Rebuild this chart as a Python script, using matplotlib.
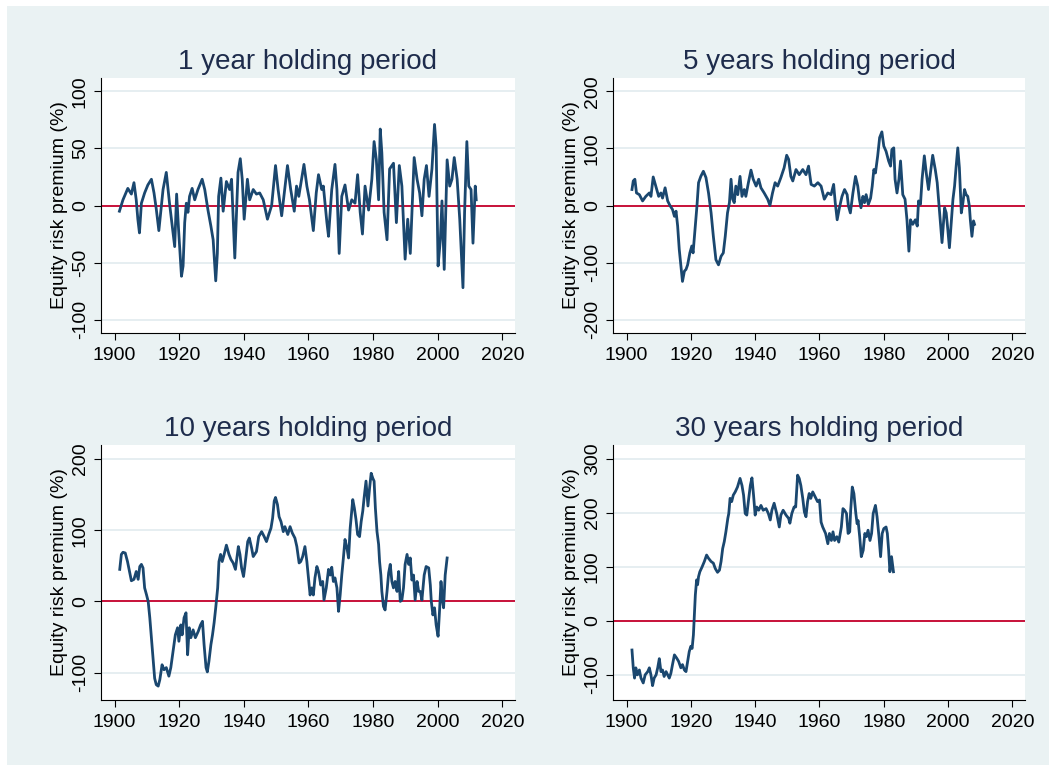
import matplotlib
matplotlib.use('Agg')
import matplotlib.pyplot as plt
from matplotlib.patches import Rectangle

plt.rcParams['font.family'] = ['Liberation Sans', 'DejaVu Sans']
plt.rcParams['axes.unicode_minus'] = False

# ---------------- data ----------------
titles = ["1 year holding period", "5 years holding period",
          "10 years holding period", "30 years holding period"]
x_ticks = [1900, 1920, 1940, 1960, 1980, 2000, 2020]

yr_1y = [1901.5, 1902.6, 1904.1, 1905.2, 1906.0, 1906.7, 1907.2, 1907.7, 1908.3, 1909.3,
         1910.3, 1911.4, 1912.2, 1912.9, 1913.7, 1915.0, 1916.0, 1917.0, 1917.6, 1918.6,
         1919.2, 1919.8, 1920.7, 1921.2, 1921.7, 1922.2, 1922.7, 1923.2, 1924.0, 1924.8,
         1925.8, 1927.1, 1927.9, 1928.9, 1929.8, 1930.5, 1931.3, 1931.8, 1932.2, 1932.9,
         1933.6, 1934.6, 1935.6, 1936.2, 1937.2, 1938.2, 1938.9, 1939.5, 1940.1, 1941.1,
         1941.8, 1942.9, 1943.9, 1944.9, 1946.0, 1947.3, 1948.6, 1949.8, 1950.6, 1951.7,
         1953.5, 1954.5, 1955.6, 1956.3, 1957.0,
         1958.6, 1959.5, 1960.3, 1961.5, 1962.4, 1963.1, 1964.1, 1964.6, 1965.7, 1966.2,
         1967.2, 1968.2, 1968.8, 1969.5, 1970.3, 1971.3, 1972.4, 1973.4, 1974.4, 1975.2,
         1976.0, 1976.7, 1977.5, 1978.6, 1979.6, 1980.3, 1981.0, 1981.7, 1982.2, 1982.7,
         1983.4, 1984.3, 1985.1, 1986.3, 1987.2, 1988.1, 1988.9, 1989.9, 1990.7, 1991.5,
         1992.7, 1993.6, 1994.4, 1995.1, 1995.8, 1996.5, 1997.3, 1998.2, 1999.0, 1999.5,
         2000.1, 2000.8, 2001.3, 2002.0, 2002.9, 2003.7, 2004.4, 2005.1, 2006.0, 2006.8,
         2007.8, 2008.3, 2009.0, 2009.6, 2010.3, 2010.9, 2011.6, 2011.9]
erp_1y = [-5, 5, 15, 10, 20, 5, -12, -24, 2, 11,
          18, 23, 11, -3, -22, 14, 29, 2, -12, -36,
          10, -21, -62, -53, -15, 2, -6, 8, 15, 5,
          14, 23, 14, -4, -18, -30, -66, -42, 8, 24,
          -5, 21, 14, 23, -46, 29, 41, 23, -12, 23,
          5, 14, 10, 11, 5, -12, 0, 35, 14, -9,
          35, 14, -5, 17, 8,
          36, 17, 5, -22, 11, 27, 14, 17, -15, -27,
          14, 36, 14, -42, 8, 18, -4, 5, 2, 27,
          -6, -25, 17, -4, 23, 56, 40, 5, 67, 46,
          -6, -30, 32, 37, -15, 35, 17, -47, -12, -42,
          42, 23, 11, -9, 23, 35, 8, 32, 71, 52,
          -53, -30, 4, -56, 40, 17, 23, 42, 23, -12,
          -72, -6, 56, 17, 14, -33, 17, 5]

yr_5y = [1901.7, 1902.1, 1902.6, 1903.1, 1904.0, 1905.0, 1906.0, 1907.1, 1907.6, 1908.3,
         1909.1, 1910.0, 1910.7, 1911.2, 1912.0, 1912.8, 1913.5, 1914.3, 1914.9, 1915.4,
         1915.9, 1916.4, 1916.9, 1917.4, 1918.0, 1918.5, 1919.0, 1919.7, 1920.3, 1920.7,
         1921.4, 1921.9, 1922.4, 1923.1, 1923.9, 1924.7, 1925.5, 1926.3, 1927.0, 1927.8,
         1928.6, 1929.4, 1930.1, 1930.7, 1931.4, 1932.0, 1932.5, 1933.0, 1933.5, 1934.0,
         1934.6, 1935.3, 1935.9, 1936.6, 1937.1, 1937.9, 1938.7, 1939.4, 1940.3, 1941.1,
         1941.8, 1942.8, 1943.9, 1944.6, 1945.4, 1946.2, 1947.0, 1948.0, 1949.0, 1949.8,
         1950.4, 1951.1, 1951.7, 1952.7, 1953.7, 1954.8, 1955.8, 1956.6, 1957.4,
         1958.4, 1959.5, 1960.5, 1961.5, 1962.6, 1963.6, 1964.4, 1964.9, 1965.5, 1966.2,
         1967.0, 1967.8, 1968.6, 1969.0, 1969.6, 1970.4, 1971.2, 1971.9, 1972.4, 1972.9,
         1973.5, 1974.0, 1974.5, 1975.2, 1975.9, 1976.4, 1976.9, 1977.4, 1978.1, 1978.7,
         1979.4, 1980.0, 1980.7, 1981.5, 1982.1, 1982.5, 1983.1, 1983.5, 1984.1, 1984.7,
         1985.2, 1985.9, 1986.6, 1987.2, 1987.8, 1988.3, 1989.0, 1989.8, 1990.4, 1990.8,
         1991.4, 1991.9, 1992.6, 1993.2, 1993.9, 1994.5, 1995.2, 1996.0, 1996.6, 1997.1,
         1997.8, 1998.1, 1998.9, 1999.4, 1999.9, 2000.4, 2000.9, 2001.5, 2002.0, 2002.5,
         2003.0, 2003.5, 2004.1, 2004.6, 2005.1, 2005.6, 2006.1, 2006.6, 2006.9, 2007.4,
         2007.9, 2008.2]
erp_5y = [28, 43, 46, 22, 19, 8, 16, 22, 16, 50,
          34, 16, 22, 13, 31, 8, 0, -7, -19, -10,
          -36, -77, -106, -133, -115, -112, -104, -83, -71, -83,
          -36, -1, 40, 51, 60, 49, 22, -13, -54, -95,
          -104, -89, -83, -54, -13, 5, 46, 11, 5, 34,
          19, 51, 16, 28, 16, 40, 62, 46, 34, 46,
          31, 22, 11, 0, 22, 40, 34, 49, 66, 88,
          81, 51, 43, 63, 54, 63, 54, 69, 37,
          34, 40, 34, 11, 22, 19, 37, 5, -25, -4,
          16, 28, 19, -1, -13, 22, 51, 34, 11, -4,
          16, 5, 19, 2, 13, 34, 63, 57, 87, 119,
          129, 104, 95, 78, 69, 98, 101, 46, 22, 46,
          78, 19, 11, -25, -80, -25, -33, -25, -36, 8,
          2, 46, 87, 57, 28, 57, 88, 63, 40, 5,
          -42, -65, -4, -13, -42, -74, -36, 11, 34, 69,
          101, 66, -13, 5, 28, 19, 16, -1, -25, -54,
          -27, -33]

yr_10y = [1901.6, 1902.1, 1902.6, 1903.3, 1904.0, 1904.7, 1905.2, 1906.0, 1906.7, 1907.3,
          1907.8, 1908.3, 1908.8, 1909.3, 1909.9, 1910.4, 1910.9, 1911.4, 1911.9, 1912.4,
          1912.9, 1913.5, 1914.0, 1914.7, 1915.3, 1916.0, 1916.8, 1917.4, 1918.1, 1918.8,
          1919.5, 1919.9, 1920.5, 1920.9, 1921.5, 1922.1, 1922.6, 1923.1, 1923.6, 1924.3,
          1925.0, 1925.9, 1926.6, 1927.2, 1927.7, 1928.3, 1928.7, 1929.2, 1929.8, 1930.3,
          1930.8, 1931.3, 1931.9, 1932.3, 1932.8, 1933.3, 1933.9, 1934.6, 1935.4, 1936.0,
          1936.7, 1937.4, 1938.3, 1938.8, 1939.3, 1939.9, 1940.3, 1941.2, 1941.7, 1942.4,
          1942.9, 1943.9, 1944.6, 1945.5, 1946.3, 1947.0, 1947.7, 1948.4, 1948.9, 1949.4,
          1949.8, 1950.4, 1950.9, 1951.5, 1952.2, 1952.7, 1953.6, 1954.3, 1955.0, 1955.8,
          1956.4, 1957.1,
          1957.6, 1958.2, 1958.9, 1959.5, 1960.0, 1960.5, 1961.0, 1961.5, 1962.0, 1962.6,
          1963.1, 1963.8, 1964.4, 1964.8, 1965.5, 1966.2, 1966.7, 1967.2, 1967.7, 1968.2,
          1968.8, 1969.3, 1969.8, 1970.3, 1970.8, 1971.3, 1971.9, 1972.4, 1972.9, 1973.4,
          1973.7, 1974.2, 1974.7, 1975.2, 1975.8, 1976.3, 1976.8, 1977.2, 1977.8, 1978.4,
          1978.9, 1979.4, 1979.9, 1980.3, 1980.7, 1981.2, 1981.7, 1982.0, 1982.4, 1982.7,
          1983.2, 1983.7, 1984.3, 1984.8, 1985.3, 1985.8, 1986.3, 1986.8, 1987.4, 1987.9,
          1988.4, 1988.9, 1989.4, 1989.9, 1990.5, 1991.0, 1991.5, 1992.0, 1992.5, 1993.0,
          1993.6, 1994.1, 1994.6, 1995.1, 1995.8, 1996.4, 1997.2, 1997.7, 1998.0, 1998.5,
          1999.0, 1999.5, 2000.1, 2000.6, 2001.0, 2001.5, 2001.8, 2002.3, 2002.9]
erp_10y = [45, 66, 69, 68, 56, 40, 29, 31, 42, 31,
           49, 52, 47, 19, 9, 0, -23, -51, -79, -108,
           -117, -119, -110, -89, -96, -93, -105, -93, -70, -47,
           -37, -56, -33, -47, -23, -16, -75, -37, -51, -40,
           -51, -42, -33, -28, -61, -93, -99, -84, -61, -47,
           -30, -9, 19, 56, 66, 56, 66, 79, 66, 59,
           54, 45, 77, 66, 47, 35, 49, 84, 89, 75,
           63, 70, 91, 98, 91, 84, 94, 103, 117, 141,
           146, 136, 119, 112, 98, 105, 94, 105, 96, 89,
           77, 54,
           56, 63, 77, 56, 33, 9, 19, 9, 33, 49,
           42, 23, 28, 2, 19, 45, 37, 48, 28, 33,
           19, -14, 9, 37, 61, 87, 75, 61, 103, 127,
           143, 131, 115, 94, 91, 112, 127, 145, 169, 134,
           159, 180, 173, 169, 131, 98, 80, 56, 37, 14,
           -7, -12, 14, 40, 52, 28, 19, 28, 14, 42,
           0, 2, 19, 52, 66, 52, 61, 30, 37, 2,
           28, 14, 14, 2, 37, 49, 47, 23, 0, -19,
           -9, -33, -49, -9, 28, 0, -9, 37, 61]

yr_30y = [1901.7, 1902.1, 1902.5, 1902.9, 1903.4, 1904.0, 1904.5, 1905.2, 1905.8, 1906.6,
          1907.1, 1907.6, 1908.1, 1908.6, 1909.2, 1909.7, 1910.2, 1910.7, 1911.2, 1911.7,
          1912.3, 1912.8, 1913.3, 1913.8, 1914.3, 1914.9, 1915.6, 1916.2, 1916.9, 1917.4,
          1918.0, 1918.5, 1919.0, 1919.5, 1920.0, 1920.4, 1920.8, 1921.1, 1921.4, 1921.8,
          1922.1, 1922.4, 1922.8, 1923.5, 1924.2, 1924.9, 1925.5, 1926.3, 1927.0, 1927.6,
          1928.3, 1928.9, 1929.4, 1929.9, 1930.4, 1930.9, 1931.5, 1931.8, 1932.2, 1932.7,
          1933.2, 1933.8, 1934.5, 1935.3, 1935.9, 1936.4, 1936.9, 1937.4, 1938.0, 1938.5,
          1939.0, 1939.5, 1940.0, 1940.5, 1941.1, 1941.8, 1942.5, 1943.4, 1944.1, 1944.7,
          1945.2, 1945.9, 1946.7, 1947.5, 1948.0, 1948.7, 1949.6, 1950.4, 1950.8, 1951.4,
          1952.1, 1952.6, 1953.2, 1953.7, 1954.2, 1954.8, 1955.3, 1955.8, 1956.3, 1956.8,
          1957.3, 1957.9, 1958.4, 1958.9, 1959.4, 1960.0,
          1960.5, 1961.0, 1961.9, 1962.6, 1963.1, 1963.7, 1964.2, 1964.7, 1965.4, 1966.0,
          1966.8, 1967.3, 1967.8, 1968.4, 1968.9, 1969.4, 1969.7, 1970.2, 1970.7, 1971.3,
          1971.7, 1972.0, 1972.5, 1973.0, 1973.6, 1974.1, 1974.6, 1975.1, 1975.7, 1976.2,
          1976.7, 1977.4, 1977.9, 1978.5, 1979.0, 1979.5, 1980.0, 1980.7, 1981.1, 1981.5,
          1981.9, 1982.4, 1983.0]
erp_30y = [-54, -87, -106, -87, -100, -91, -106, -115, -100, -94,
           -87, -100, -120, -106, -100, -87, -70, -94, -91, -103,
           -94, -100, -106, -97, -81, -63, -69, -75, -87, -81,
           -91, -94, -75, -57, -47, -51, -26, 11, 48, 76,
           67, 82, 91, 100, 110, 122, 116, 110, 107, 97,
           90, 94, 110, 134, 147, 165, 190, 199, 227, 221,
           233, 239, 248, 264, 251, 233, 199, 196, 227, 251,
           265, 233, 196, 211, 205, 214, 205, 208, 199, 187,
           205, 218, 199, 174, 196, 205, 196, 190, 181, 199,
           211, 211, 270, 264, 251, 227, 202, 193, 221, 236,
           227, 239, 233, 227, 221, 224,
           183, 174, 162, 143, 162, 149, 165, 149, 156, 146,
           174, 208, 205, 199, 162, 165, 205, 248, 236, 199,
           180, 186, 156, 119, 131, 162, 156, 168, 149, 162,
           199, 214, 193, 156, 119, 162, 171, 174, 162, 131,
           91, 119, 91]

y_ticks = [[-100, -50, 0, 50, 100], [-200, -100, 0, 100, 200],
           [-100, 0, 100, 200], [-100, 0, 100, 200, 300]]
y_lims = [(-111.7, 111.7), (-223.4, 223.4), (-138.5, 219.7), (-146.6, 325.9)]
series = [(yr_1y, erp_1y), (yr_5y, erp_5y), (yr_10y, erp_10y), (yr_30y, erp_30y)]

# ---------------- styling ----------------
W, H = 1056, 771
BG = '#EAF2F3'
NAVY = '#1A476F'
RED = '#C8103A'
GRID = '#E4EDF0'
TITLE_C = '#1E2C4C'

fig = plt.figure(figsize=(W / 100, H / 100), dpi=100)
fig.patch.set_facecolor('white')
fig.add_artist(Rectangle((7 / W, 1 - 765 / H), (1049 - 7) / W, (765 - 6) / H,
                         transform=fig.transFigure, facecolor=BG,
                         edgecolor='none', zorder=-10))

# axes boxes in pixels: (left, top, right, bottom)
boxes = [(101, 78, 515, 333), (613, 78, 1025, 333),
         (101, 445, 515, 700), (613, 445, 1025, 700)]

for i, (l, t, r, b) in enumerate(boxes):
    ax = fig.add_axes([l / W, 1 - b / H, (r - l) / W, (b - t) / H])
    ax.set_facecolor('white')
    xs, ys = series[i]
    ax.axhline(0, color=RED, lw=1.4, zorder=2)
    ax.plot(xs, ys, color=NAVY, lw=2.0, zorder=3, solid_joinstyle='round')
    ax.set_xlim(1895.8, 2023.9)
    ax.set_ylim(*y_lims[i])
    ax.set_xticks(x_ticks)
    ax.set_xticklabels([str(v) for v in x_ticks])
    ax.set_yticks(y_ticks[i])
    ax.set_yticklabels([str(v) for v in y_ticks[i]], rotation=90, va='center')
    ax.yaxis.grid(True, color=GRID, lw=1.3)
    ax.set_axisbelow(True)
    for s in ['top', 'right']:
        ax.spines[s].set_visible(False)
    for s in ['left', 'bottom']:
        ax.spines[s].set_color('#000000')
        ax.spines[s].set_linewidth(0.8)
    ax.tick_params(axis='both', direction='out', length=5.3, width=0.8,
                   labelsize=14, colors='#000000')
    ax.tick_params(axis='y', pad=3.5)
    ax.tick_params(axis='x', pad=4.5)
    ax.set_title(titles[i], fontsize=20, color=TITLE_C, pad=6.5)
    ax.set_ylabel('Equity risk premium (%)', fontsize=14, color='#000000')
    ax.yaxis.set_label_coords(-33 / (r - l), 0.5)

fig.savefig('out.png', dpi=100, facecolor=fig.get_facecolor())
